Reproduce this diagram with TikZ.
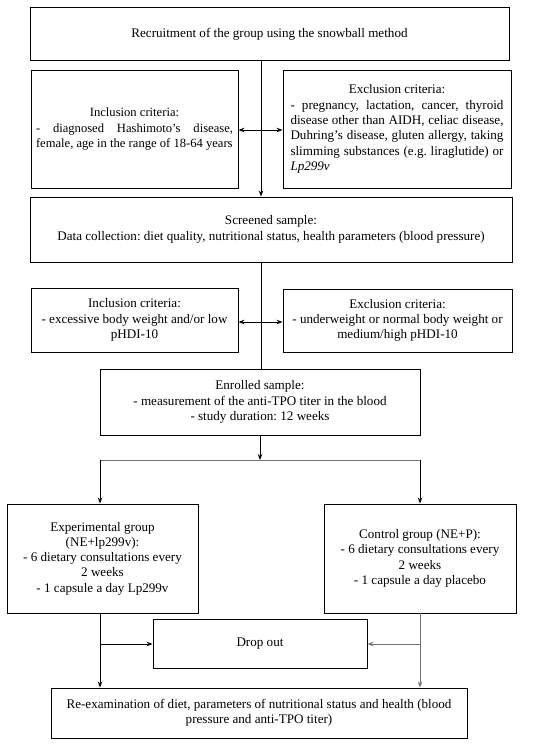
\documentclass[tikz,border=0pt]{standalone}
\usepackage{fontspec}
\setmainfont{Liberation Serif}
\usetikzlibrary{arrows.meta}
\frenchspacing
\begin{document}
\begin{tikzpicture}[x=1pt,y=-1pt,
  box/.style={draw, line width=0.9pt, inner sep=0pt, align=center, font=\fontsize{13.1}{15.3}\selectfont},
  arr/.style={-{Stealth[length=6pt,width=4.5pt]}, line width=0.9pt},
  dbl/.style={{Stealth[length=6pt,width=4.5pt]}-{Stealth[length=6pt,width=4.5pt]}, line width=0.9pt}]
\useasboundingbox (0,0) rectangle (550,746);
% boxes
\node[box, minimum width=479, minimum height=53] (recruit) at (269.5,34) {Recruitment of the group using the snowball method};
\node[box, minimum width=207, minimum height=118, text width=197, align=justify, font=\fontsize{12.6}{15.3}\selectfont] (inca) at (134.5,129)
  {{\centering Inclusion criteria:\par}- diagnosed Hashimoto's disease,\linebreak \mbox{female, age in the range of 18-64 years}};
\node[box, minimum width=228, minimum height=118, text width=213, align=justify] (exca) at (397,129)
  {{\centering Exclusion criteria:\par}- pregnancy, lactation, cancer, thyroid\linebreak disease other than AIDH, celiac disease,\linebreak Duhring's disease, gluten allergy, taking\linebreak slimming substances (e.g. liraglutide) or\linebreak \textit{Lp299v}};
\node[box, minimum width=482, minimum height=65] (screen) at (271,229.5)
  {Screened sample:\\Data collection: diet quality, nutritional status, health parameters (blood pressure)};
\node[box, minimum width=207, minimum height=64] (incb) at (134.5,320)
  {Inclusion criteria:\\- excessive body weight and/or low\\pHDI-10};
\node[box, minimum width=229, minimum height=63] (excb) at (397.5,320.5)
  {Exclusion criteria:\\- underweight or normal body weight or\\medium/high pHDI-10};
\node[box, minimum width=320, minimum height=66] (enrol) at (260,402)
  {Enrolled sample:\\- measurement of the anti-TPO titer in the blood\\- study duration: 12 weeks};
\node[box, minimum width=191, minimum height=109] (exp) at (102.5,558.5)
  {Experimental group\\(NE+lp299v):\\- 6 dietary consultations every\\2 weeks\\- 1 capsule a day Lp299v};
\node[box, minimum width=192, minimum height=109] (ctrl) at (420,558.5)
  {Control group (NE+P):\\- 6 dietary consultations every\\2 weeks\\- 1 capsule a day placebo};
\node[box, minimum width=214, minimum height=49] (drop) at (260,643.5) {Drop out};
\node[box, minimum width=416, minimum height=50] (final) at (259,713)
  {Re-examination of diet, parameters of nutritional status and health (blood\\pressure and anti-TPO titer)};
% helper points
\coordinate (trunk) at (261,0);
\coordinate (split) at (260,460);
\coordinate (lft) at (100,460);
\coordinate (rgt) at (420,460);
\coordinate (lout) at (100,644);
\coordinate (rout) at (420,644);
% connectors
\draw[arr] (recruit.south -| trunk) -- (screen.north -| trunk);
\draw[dbl] (inca.east |- 0,130) -- (exca.west |- 0,130);
\draw[line width=0.9pt] (screen.south -| trunk) -- (enrol.north -| trunk);
\draw[dbl] (incb.east |- 0,322) -- (excb.west |- 0,322);
\draw[arr] (enrol.south) -- (split);
\draw[line width=0.9pt, black!55] (lft) -- (rgt);
\draw[arr] (lft) -- (exp.north -| lft);
\draw[arr] (rgt) -- (ctrl.north -| rgt);
\draw[arr] (exp.south -| lout) -- (final.north -| lout);
\draw[arr, black!55] (ctrl.south -| rout) -- (final.north -| rout);
\draw[arr] (lout) -- (drop.west |- lout);
\draw[arr, black!55] (rout) -- (drop.east |- rout);
\end{tikzpicture}
\end{document}
